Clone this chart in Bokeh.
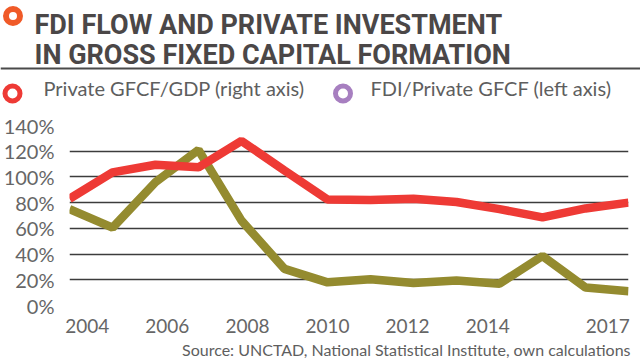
from bokeh.plotting import figure
from bokeh.layouts import column
from bokeh.models import Range1d, LinearAxis, FixedTicker, PrintfTickFormatter
from bokeh.core.properties import value
from bokeh.embed import file_html
from bokeh.resources import INLINE

# ---------------- data ----------------
years = [2004, 2005, 2006, 2007, 2008, 2009, 2010, 2011, 2012, 2013, 2014, 2015, 2016, 2017]
private_gfcf_gdp = [83, 103.5, 109.5, 107.5, 128, 105, 82.5, 82, 83, 80.5, 75, 68.5, 75.5, 80]
fdi_private_gfcf = [75, 60.5, 96, 121, 66, 28.5, 18, 20.5, 17.5, 19.5, 17, 38.5, 14, 11]
x_tick_years = [2004, 2006, 2008, 2010, 2012, 2014, 2017]
y_ticks = [0, 20, 40, 60, 80, 100, 120, 140]

title_lines = ["FDI FLOW AND PRIVATE INVESTMENT", "IN GROSS FIXED CAPITAL FORMATION"]
legend_labels = ["Private GFCF/GDP (right axis)", "FDI/Private GFCF (left axis)"]
source_text = "Source: UNCTAD, National Statistical Institute, own calculations"

# ---------------- style ----------------
RED = "#ee3a35"
OLIVE = "#948b2f"
PURPLE = "#a77fc0"
ORANGE = "#f05a28"
TITLE_C = "#4b4747"
TEXT_C = "#5e5e5e"
TICK_C = "#666666"
GRID_C = "#3c3c3c"

W = 640
HEAD_H = 112
FOOT_H = 22
MAIN_H = 362 - HEAD_H - FOOT_H
FL, FR, FT, FB = 62, 12, 13, 35


def blank(h):
    f = figure(width=W, height=h, x_range=Range1d(0, W), y_range=Range1d(h, 0),
               title=None, output_backend="svg", toolbar_location=None,
               x_axis_location=None, y_axis_location=None,
               min_border=0, min_border_left=0, min_border_right=0,
               min_border_top=0, min_border_bottom=0,
               outline_line_color=None, background_fill_color="white",
               border_fill_color="white")
    f.frame_align = False
    f.xgrid.grid_line_color = None
    f.ygrid.grid_line_color = None
    return f


# ---------------- header: title, rule, legend ----------------
head = blank(HEAD_H)
head.scatter(x=[12.5], y=[15.5], marker="circle", size=14, fill_color="white",
             line_color=ORANGE, line_width=6)
head.text(x=[34, 34], y=[24, 54], text=title_lines, text_font=value("Roboto"),
          text_font_style="bold", text_font_size="27px", text_color=TITLE_C,
          text_baseline="alphabetic", text_align="left")
head.segment(x0=[0], y0=[68], x1=[W], y1=[68], line_color="#4a4a4a", line_width=2)
head.scatter(x=[12, 342.5], y=[93, 93], marker="circle", size=15, fill_color="white",
             line_color=[RED, PURPLE], line_width=5)
head.text(x=[43, 370], y=[87, 87], text=legend_labels, text_font=value("Lato"),
          text_font_size="20px", text_color=TEXT_C, text_baseline="middle",
          text_align="left")

# ---------------- main chart ----------------
p = figure(width=W, height=MAIN_H, x_range=Range1d(2004, 2017), y_range=Range1d(0, 140),
           title=None, output_backend="svg", toolbar_location=None, x_axis_location=None,
           min_border_left=FL, min_border_right=FR, min_border_top=FT, min_border_bottom=FB,
           outline_line_color=None, background_fill_color="white", border_fill_color="white")
p.frame_align = False

p.extra_x_ranges = {"lab": Range1d(2003.556, 2017.517)}
xaxis = LinearAxis(x_range_name="lab", ticker=FixedTicker(ticks=x_tick_years),
                   axis_line_color=None, major_tick_line_color=None, minor_tick_line_color=None,
                   major_label_text_font="Lato", major_label_text_font_size="19px",
                   major_label_text_color=TICK_C, major_label_standoff=7)
p.add_layout(xaxis, "below")
p.xgrid.grid_line_color = None

yaxis = p.yaxis[0]
yaxis.ticker = FixedTicker(ticks=y_ticks)
yaxis.formatter = PrintfTickFormatter(format="%d%%")
yaxis.axis_line_color = None
yaxis.major_tick_line_color = None
yaxis.minor_tick_line_color = None
yaxis.major_label_text_font = "Lato"
yaxis.major_label_text_font_size = "20px"
yaxis.major_label_text_color = TICK_C
yaxis.major_label_standoff = 9
p.ygrid.grid_line_color = GRID_C
p.ygrid.grid_line_width = 1.5

p.line(years, fdi_private_gfcf, line_color=OLIVE, line_width=8.5)
p.line(years, private_gfcf_gdp, line_color=RED, line_width=8.5)

# ---------------- footer: source ----------------
foot = blank(FOOT_H)
foot.text(x=[630], y=[9], text=[source_text], text_font=value("Lato"),
          text_font_size="16px", text_color=TEXT_C, text_baseline="alphabetic",
          text_align="right")

layout = column(head, p, foot, spacing=0)
open("out.html", "w").write(file_html(layout, INLINE))
